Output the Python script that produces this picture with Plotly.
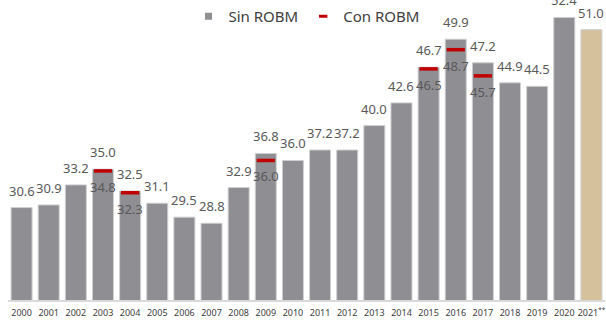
import plotly.graph_objects as go

# Yearly values
years = [str(y) for y in range(2000, 2021)] + ["2021"]
tick_labels = [str(y) for y in range(2000, 2021)] + ["2021<sup>**</sup>"]
sin_robm = [30.6, 30.9, 33.2, 35.0, 32.5, 31.1, 29.5, 28.8, 32.9, 36.8, 36.0,
            37.2, 37.2, 40.0, 42.6, 46.7, 49.9, 47.2, 44.9, 44.5, 52.4, 51.0]

# Years that also have a "Con ROBM" value
con_years = ["2003", "2004", "2009", "2015", "2016", "2017"]
con_robm = [34.8, 32.3, 36.0, 46.5, 48.7, 45.7]

GREY = "#8f8e93"
TAN = "#d5c29d"
RED = "#c00000"
LABEL = "#595959"
FONT = "Noto Sans"

bar_colors = [GREY] * (len(years) - 1) + [TAN]
pos = {y: i for i, y in enumerate(years)}

fig = go.Figure()

fig.add_trace(go.Bar(
    x=years, y=sin_robm, name="Sin ROBM",
    marker=dict(color=bar_colors, line=dict(color="#cfcfd1", width=1)),
    showlegend=False,
))
# legend entry for the bars (small square swatch)
fig.add_trace(go.Scatter(
    x=[years[0]], y=[None], name="Sin ROBM", mode="markers",
    marker=dict(symbol="square", size=7, color=GREY), showlegend=True,
))

fig.add_trace(go.Scatter(
    x=con_years, y=con_robm, name="Con ROBM", mode="markers",
    marker=dict(symbol="line-ew", size=13, line=dict(color=RED, width=3.5)),
    showlegend=False,
))
# legend entry for the markers
fig.add_trace(go.Scatter(
    x=[years[0]], y=[None], name="Con ROBM", mode="markers",
    marker=dict(symbol="line-ew", size=6, line=dict(color=RED, width=3)),
    showlegend=True,
))

annotations = []
for x, v in zip(years, sin_robm):
    annotations.append(dict(
        x=pos[x], y=v, text=f"{v:.1f}", showarrow=False, xref="x", yref="y",
        yanchor="middle", yshift=17,
        font=dict(family=FONT, size=13, color=LABEL),
    ))
for x, v in zip(con_years, con_robm):
    annotations.append(dict(
        x=pos[x], y=v, text=f"{v:.1f}", showarrow=False, xref="x", yref="y",
        yanchor="middle", yshift=-16,
        font=dict(family=FONT, size=13, color=LABEL),
    ))

fig.update_layout(
    width=606, height=320,
    margin=dict(l=8, r=1, t=0, b=20),
    paper_bgcolor="white", plot_bgcolor="white",
    barmode="overlay", bargap=0.226,
    annotations=annotations,
    legend=dict(
        orientation="h", x=0.5, xanchor="center", y=1.0, yanchor="top",
        font=dict(family=FONT, size=15, color="#404040"),
        bgcolor="rgba(0,0,0,0)", itemwidth=30, tracegroupgap=0,
    ),
    xaxis=dict(
        type="category", categoryorder="array", categoryarray=years,
        range=[-0.5, len(years) - 0.5],
        tickmode="array", tickvals=years, ticktext=tick_labels,
        showline=True, linecolor="#d9d9d9", linewidth=2,
        showgrid=False, ticks="", tickangle=0, ticklabelstandoff=3,
        tickfont=dict(family=FONT, size=9, color="#404040"),
    ),
    yaxis=dict(visible=False, range=[20, 54.4], fixedrange=True),
)

fig.write_html("out.html")
